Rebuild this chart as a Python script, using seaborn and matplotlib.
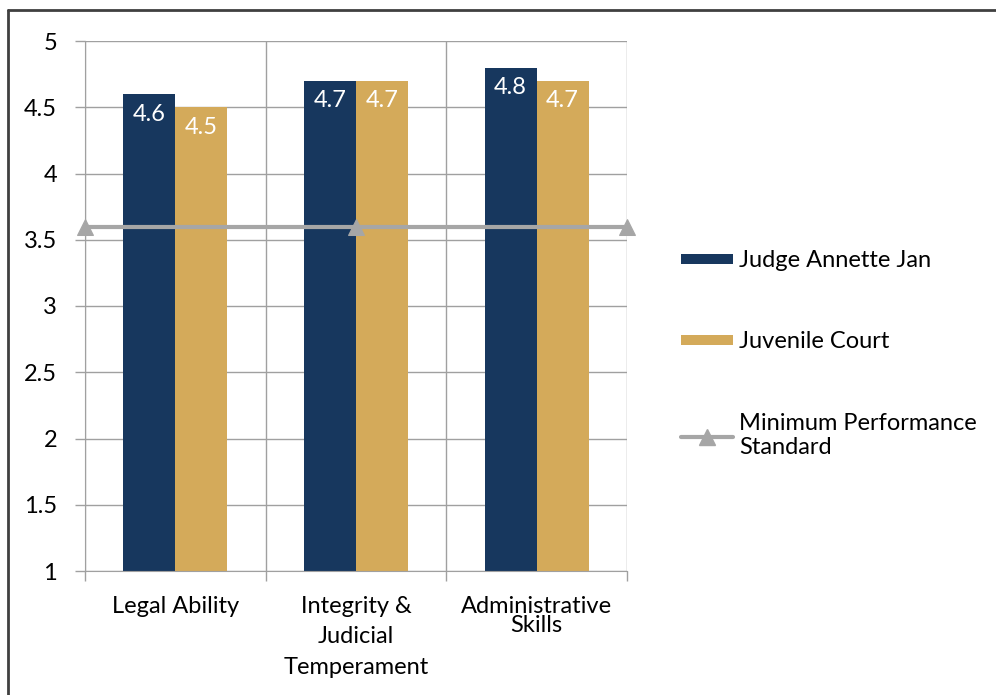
import numpy as np
import pandas as pd
import matplotlib
matplotlib.use("Agg")
import matplotlib.pyplot as plt
import seaborn as sns
from matplotlib.ticker import FuncFormatter, FixedLocator
from matplotlib.lines import Line2D

categories = ["Legal Ability", "Integrity &\nJudicial\nTemperament", "Administrative\nSkills"]
judge_scores = [4.6, 4.7, 4.8]
court_scores = [4.5, 4.7, 4.7]
min_standard = [3.6, 3.6, 3.6]
series_names = ["Judge Annette Jan", "Juvenile Court", "Minimum Performance\nStandard"]

navy = "#17375E"
gold = "#D4AA5A"
line_gray = "#A6A6A6"
grid_gray = "#A0A0A0"
fs = 17

sns.set_style("white")
plt.rcParams['font.family'] = ['Lato', 'DejaVu Sans']
plt.rcParams['text.color'] = 'black'
plt.rcParams['xtick.labelcolor'] = 'black'
plt.rcParams['ytick.labelcolor'] = 'black'

df = pd.DataFrame({"Category": categories * 2,
                   "Score": judge_scores + court_scores,
                   "Series": [series_names[0]] * 3 + [series_names[1]] * 3})

fig = plt.figure(figsize=(9.96, 6.95), dpi=100)
ax = fig.add_axes([85 / 996, 1 - 571 / 695, (627 - 85) / 996, (571 - 41) / 695])

sns.barplot(data=df, x="Category", y="Score", hue="Series", palette=[navy, gold],
            width=0.576, gap=0, ax=ax, legend=True, saturation=1, linewidth=0)

for container in ax.containers:
    ax.bar_label(container, fmt="%g", padding=-22, color="white", fontsize=fs)

ax.set_ylim(1, 5)
ax.set_xlim(-0.5, 2.5)
ax.set_yticks(np.arange(1, 5.01, 0.5))
ax.yaxis.set_major_formatter(FuncFormatter(lambda v, p: f"{v:g}"))
ax.xaxis.set_minor_locator(FixedLocator([-0.5, 0.5, 1.5, 2.5]))
ax.grid(True, axis="y", which="major", color=grid_gray, lw=1)
ax.grid(True, axis="x", which="minor", color=grid_gray, lw=1)
ax.set_axisbelow(True)
ax.tick_params(axis="y", which="major", length=7, width=1, color=grid_gray,
               labelsize=fs, pad=13, left=True, labelcolor="black")
ax.tick_params(axis="x", which="major", length=0, labelsize=fs, pad=18, labelcolor="black")
ax.tick_params(axis="x", which="minor", length=7, width=1, color=grid_gray, bottom=True)
for s in ["top", "right"]:
    ax.spines[s].set_visible(False)
for s in ["left", "bottom"]:
    ax.spines[s].set_color(grid_gray)
ax.set_xlabel("")
ax.set_ylabel("")

spacings = [1.2, 1.55, 0.9]
for lab, sp in zip(ax.get_xticklabels(), spacings):
    lab.set_linespacing(sp)

# minimum standard line on its own category scale
ax2 = ax.twiny()
sns.lineplot(x=[0, 1, 2], y=min_standard, ax=ax2, color=line_gray, lw=3,
             marker="^", markersize=12, markeredgecolor=line_gray, clip_on=False)
ax2.set_xlim(0, 2)
ax2.set_ylim(1, 5)
ax2.set_xticks([])
for s in ax2.spines.values():
    s.set_visible(False)

handles, labels = ax.get_legend_handles_labels()
ax.get_legend().remove()
line_handle = Line2D([], [], color=line_gray, lw=3, marker="^", markersize=12)
leg = fig.legend(handles + [line_handle], labels + [series_names[2]],
                 loc="upper left", bbox_to_anchor=(660 / 996, 1 - 229 / 695),
                 frameon=False, fontsize=fs, handlelength=2.2, handleheight=0.3,
                 handletextpad=0.25, labelspacing=2.55, labelcolor="black")

# outer frame (top and left edges visible)
fig.add_artist(Line2D([8 / 996, 8 / 996], [0, 1 - 10 / 695], transform=fig.transFigure,
                      color="#404040", lw=2))
fig.add_artist(Line2D([8 / 996, 1], [1 - 10 / 695, 1 - 10 / 695], transform=fig.transFigure,
                      color="#404040", lw=2))

plt.savefig("out.png", dpi=100)
